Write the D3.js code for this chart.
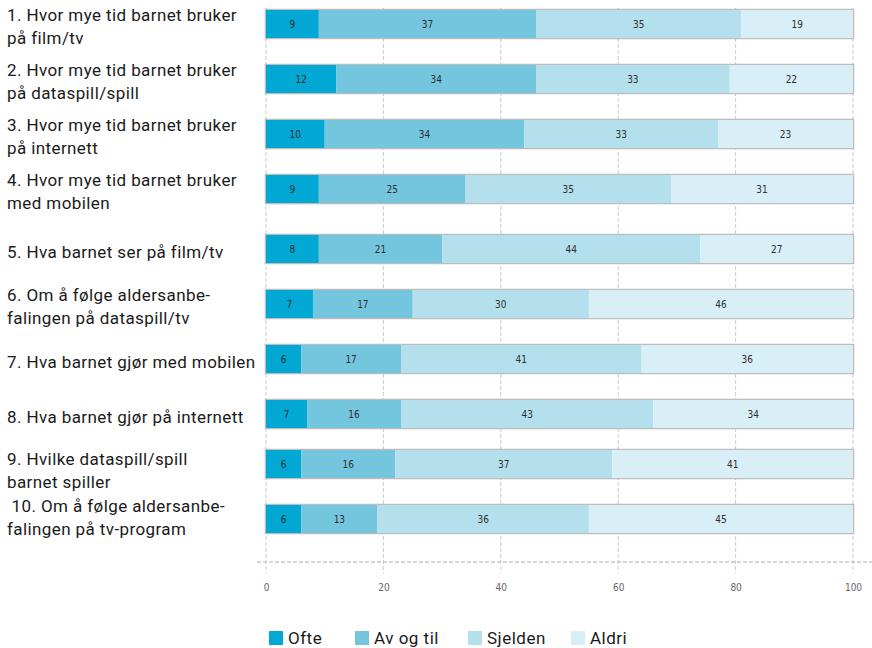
<!DOCTYPE html>
<html><head><meta charset="utf-8">
<script src="https://cdn.jsdelivr.net/npm/d3@7"></script>
<style>
html,body{margin:0;padding:0;background:#fff;}
svg{display:block;}
</style></head>
<body>
<svg id="chart" width="872" height="648"></svg>
<script>
const categories = [
  ["1. Hvor mye tid barnet bruker", "på film/tv"],
  ["2. Hvor mye tid barnet bruker", "på dataspill/spill"],
  ["3. Hvor mye tid barnet bruker", "på internett"],
  ["4. Hvor mye tid barnet bruker", "med mobilen"],
  ["5. Hva barnet ser på film/tv"],
  ["6. Om å følge aldersanbe-", "falingen på dataspill/tv"],
  ["7. Hva barnet gjør med mobilen"],
  ["8. Hva barnet gjør på internett"],
  ["9. Hvilke dataspill/spill", "barnet spiller"],
  ["\u00a010. Om å følge aldersanbe-", "falingen på tv-program"]
];
const seriesNames = ["Ofte", "Av og til", "Sjelden", "Aldri"];
// printed (rounded) percentages shown inside the bars
const ofteLabel    = [9, 12, 10, 9, 8, 7, 6, 7, 6, 6];
const avOgTilLabel = [37, 34, 34, 25, 21, 17, 17, 16, 16, 13];
const sjeldenLabel = [35, 33, 33, 35, 44, 30, 41, 43, 37, 36];
const aldriLabel   = [19, 22, 23, 31, 27, 46, 36, 34, 41, 45];
// segment shares as drawn in the picture
const ofte    = [9, 12, 10, 9, 9, 8, 6, 7, 6, 6];
const avOgTil = [37, 34, 34, 25, 21, 17, 17, 16, 16, 13];
const sjelden = [35, 33, 33, 35, 44, 30, 41, 43, 37, 36];
const aldri   = [19, 21, 23, 31, 26, 45, 36, 34, 41, 45];
const tickValues = [0, 20, 40, 60, 80, 100];
const colors = ["#00a8d3", "#74c6de", "#b4e0ed", "#d8eff7"];

const labelArrays = { "Ofte": ofteLabel, "Av og til": avOgTilLabel, "Sjelden": sjeldenLabel, "Aldri": aldriLabel };

const svg = d3.select("#chart");
const rows = categories.map((c, i) => ({
  id: i, label: c,
  Ofte: ofte[i], "Av og til": avOgTil[i], Sjelden: sjelden[i], Aldri: aldri[i]
}));

const x = d3.scaleLinear().domain([0, 100]).range([266, 853]);
const y = d3.scaleBand().domain(rows.map(d => d.id)).range([10, 533]).paddingInner(0.5).paddingOuter(0);
// layout nudge: middle block of rows sits slightly lower in the original
const yPos = id => Math.round(y(id) + (id >= 4 && id <= 7 ? 5 : 0));
const labelNudge = id => (id === 8 ? 4 : id === 9 ? -4 : 0);
const bh = Math.round(y.bandwidth());
const color = d3.scaleOrdinal().domain(seriesNames).range(colors);

// vertical dashed gridlines
svg.append("g").selectAll("line").data(tickValues).join("line")
  .attr("x1", d => x(d)).attr("x2", d => x(d))
  .attr("y1", 8).attr("y2", 573)
  .attr("stroke", "#cccccc").attr("stroke-width", 1)
  .attr("stroke-dasharray", "4,2");

// horizontal dashed axis line
const axisY = 562;
svg.append("line").attr("x1", 257).attr("x2", 872).attr("y1", axisY).attr("y2", axisY)
  .attr("stroke", "#c8c8c8").attr("stroke-width", 1.5).attr("stroke-dasharray", "4,2");

// tick labels via d3 axis
const axis = d3.axisBottom(x).tickValues(tickValues).tickSize(0).tickPadding(0);
const ag = svg.append("g").attr("transform", `translate(0,${axisY + 22})`).call(axis);
ag.select(".domain").remove();
ag.selectAll("text").attr("font-family", "'DejaVu Sans Condensed', sans-serif").attr("font-size", 10).attr("fill", "#666");

// stacked bars
const stacked = d3.stack().keys(seriesNames)(rows);

svg.append("g").selectAll("rect").data(rows).join("rect")
  .attr("x", x(0) - 0.5).attr("y", d => yPos(d.id) - 0.5)
  .attr("width", x(100) - x(0) + 1).attr("height", bh + 1)
  .attr("fill", "none").attr("stroke", "#bdbdbd").attr("stroke-width", 1.5);

const sg = svg.append("g").selectAll("g").data(stacked).join("g")
  .attr("fill", d => color(d.key));
sg.selectAll("rect").data(d => d).join("rect")
  .attr("x", d => x(d[0])).attr("y", d => yPos(d.data.id))
  .attr("width", d => x(d[1]) - x(d[0])).attr("height", bh);

const lg = svg.append("g").selectAll("g").data(stacked).join("g");
lg.selectAll("text").data(d => d.map(v => ({v, key: d.key}))).join("text")
  .attr("x", d => (x(d.v[0]) + x(d.v[1])) / 2)
  .attr("y", d => yPos(d.v.data.id) + bh / 2)
  .attr("dy", "0.35em").attr("text-anchor", "middle")
  .attr("font-family", "'DejaVu Sans Condensed', 'DejaVu Sans', sans-serif")
  .attr("font-size", 10).attr("fill", "#2e2e2e")
  .text(d => labelArrays[d.key][d.v.data.id]);

// category labels
const lineH = 23;
const cg = svg.append("g").selectAll("text").data(rows).join("text")
  .attr("font-family", "Roboto, sans-serif").attr("font-size", 17).attr("fill", "#1a1a1a")
  .attr("letter-spacing", 0.4)
  .attr("x", 7)
  .attr("y", d => yPos(d.id) + bh / 2 - (d.label.length - 1) * lineH / 2 + 3 + labelNudge(d.id));
cg.selectAll("tspan").data(d => d.label).join("tspan")
  .attr("x", 7).attr("dy", (d, i) => i === 0 ? "0.35em" : lineH)
  .text(d => d);

// legend
const legX = [269, 355, 468, 571];
const leg = svg.append("g").selectAll("g").data(seriesNames).join("g")
  .attr("transform", (d, i) => `translate(${legX[i]},631)`);
leg.append("rect").attr("width", 14).attr("height", 14).attr("fill", d => color(d));
leg.append("text").attr("x", 19).attr("y", 7).attr("dy", "0.35em")
  .attr("font-family", "Roboto, sans-serif").attr("font-size", 17).attr("fill", "#1a1a1a")
  .attr("letter-spacing", 0.5)
  .text(d => d);
</script>
</body></html>
